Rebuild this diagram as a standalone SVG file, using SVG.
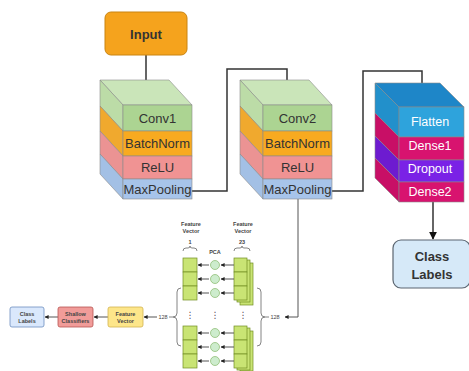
<svg xmlns="http://www.w3.org/2000/svg" width="469" height="371" viewBox="0 0 469 371">
  <style>
    .lbl { font-family: "Liberation Sans", Arial, sans-serif; font-size: 13px; fill: #333; text-anchor: middle; }
    .wl { font-family: "Liberation Sans", Arial, sans-serif; font-size: 12.5px; fill: #fff; text-anchor: middle; }
    .bold { font-weight: bold; }
    .tiny { font-family: "Liberation Sans", Arial, sans-serif; font-size: 5.5px; fill: #444; text-anchor: middle; font-weight: bold; }
    .dots { font-family: "DejaVu Sans", sans-serif; font-size: 9px; fill: #555; text-anchor: middle; }
    .edge { stroke: #8a8a8a; stroke-width: 0.6; }
    .conn { fill: none; stroke: #333; stroke-width: 1.5; }
    .thin { fill: none; stroke: #555; stroke-width: 1; }
    .cell { fill: #c9e474; stroke: #6f8d22; stroke-width: 0.7; }
    .pca { fill: #cdeccd; stroke: #86b86a; stroke-width: 0.7; }
    .brace { fill: none; stroke: #666; stroke-width: 0.8; }
  </style>
  <defs>
    <marker id="arr" viewBox="0 0 10 10" refX="9" refY="5" markerWidth="8" markerHeight="8" orient="auto" markerUnits="userSpaceOnUse">
      <path d="M0,0 L10,5 L0,10 Z" fill="#111"/>
    </marker>
    <marker id="arrS" viewBox="0 0 10 10" refX="9" refY="5" markerWidth="4" markerHeight="4" orient="auto" markerUnits="userSpaceOnUse">
      <path d="M0,0 L10,5 L0,10 Z" fill="#222"/>
    </marker>
  </defs>

  <rect width="469" height="371" fill="#fff"/>

  <!-- connectors -->
  <g id="connectors">
    <path class="conn" d="M146,55 V90" marker-end="url(#arr)"/>
    <path class="conn" d="M192,191 H227 V69 H287 V90" marker-end="url(#arr)"/>
    <path class="conn" d="M332,191 H363 V71 H422 V93" marker-end="url(#arr)"/>
    <path class="conn" d="M433,202 V239" marker-end="url(#arr)"/>
    <path class="thin" d="M298,199 V317 H285" marker-end="url(#arrS)"/>
    <path class="thin" d="M157,317 H144" marker-end="url(#arrS)"/>
    <path class="thin" d="M108,317 H94" marker-end="url(#arrS)"/>
    <path class="thin" d="M58,317 H45" marker-end="url(#arrS)"/>
  </g>

  <!-- input -->
  <g id="input">
    <rect x="105" y="12" width="82" height="43" rx="6" fill="#f5a31d" stroke="#c98412" stroke-width="1"/>
    <text class="lbl bold" x="146" y="38.5">Input</text>
  </g>

  <!-- conv block 1 -->
  <g id="conv-block-1">
    <path class="edge" d="M100,80 H169 L192,105 H123 Z" fill="#cae5b9"/>
    <path class="edge" d="M100,80 L123,105 V131 L100,106 Z" fill="#bcdca7"/>
    <path class="edge" d="M100,106 L123,131 V156 L100,131 Z" fill="#f0a92e"/>
    <path class="edge" d="M100,131 L123,156 V179 L100,154 Z" fill="#eb9393"/>
    <path class="edge" d="M100,154 L123,179 V199 L100,174 Z" fill="#a3c0e5"/>
    <rect class="edge" x="123" y="105" width="69" height="26" fill="#acd492"/>
    <rect class="edge" x="123" y="131" width="69" height="25" fill="#f8aa20"/>
    <rect class="edge" x="123" y="156" width="69" height="23" fill="#f09393"/>
    <rect class="edge" x="123" y="179" width="69" height="20" fill="#a7c4ea"/>
    <text class="lbl" x="157.5" y="122.5">Conv1</text>
    <text class="lbl" x="157.5" y="148">BatchNorm</text>
    <text class="lbl" x="157.5" y="172">ReLU</text>
    <text class="lbl" x="157.5" y="194">MaxPooling</text>
  </g>

  <!-- conv block 2 -->
  <g id="conv-block-2">
    <path class="edge" d="M240,80 H309 L332,105 H263 Z" fill="#cae5b9"/>
    <path class="edge" d="M240,80 L263,105 V131 L240,106 Z" fill="#bcdca7"/>
    <path class="edge" d="M240,106 L263,131 V156 L240,131 Z" fill="#f0a92e"/>
    <path class="edge" d="M240,131 L263,156 V179 L240,154 Z" fill="#eb9393"/>
    <path class="edge" d="M240,154 L263,179 V199 L240,174 Z" fill="#a3c0e5"/>
    <rect class="edge" x="263" y="105" width="69" height="26" fill="#acd492"/>
    <rect class="edge" x="263" y="131" width="69" height="25" fill="#f8aa20"/>
    <rect class="edge" x="263" y="156" width="69" height="23" fill="#f09393"/>
    <rect class="edge" x="263" y="179" width="69" height="20" fill="#a7c4ea"/>
    <text class="lbl" x="297.5" y="122.5">Conv2</text>
    <text class="lbl" x="297.5" y="148">BatchNorm</text>
    <text class="lbl" x="297.5" y="172">ReLU</text>
    <text class="lbl" x="297.5" y="194">MaxPooling</text>
  </g>

  <!-- dense block -->
  <g id="dense-block">
    <path class="edge" d="M375,83 H440 L464,107 H399 Z" fill="#1e86c8"/>
    <path class="edge" d="M375,83 L399,107 V137 L375,113 Z" fill="#2290cb"/>
    <path class="edge" d="M375,113 L399,137 V160 L375,136 Z" fill="#c80f66"/>
    <path class="edge" d="M375,136 L399,160 V182 L375,158 Z" fill="#6d1bd0"/>
    <path class="edge" d="M375,158 L399,182 V202 L375,178 Z" fill="#c80f66"/>
    <rect class="edge" x="399" y="107" width="65" height="30" fill="#2ea3dc"/>
    <rect class="edge" x="399" y="137" width="65" height="23" fill="#d8136f"/>
    <rect class="edge" x="399" y="160" width="65" height="22" fill="#7a22e6"/>
    <rect class="edge" x="399" y="182" width="65" height="20" fill="#d8136f"/>
    <text class="wl" x="430" y="126">Flatten</text>
    <text class="wl" x="430" y="150">Dense1</text>
    <text class="wl" x="430" y="173">Dropout</text>
    <text class="wl" x="430" y="196">Dense2</text>
  </g>

  <!-- class labels -->
  <g id="class-labels">
    <rect x="393" y="240" width="77" height="48" rx="8" fill="#d6e9f8" stroke="#5b6570" stroke-width="1.2"/>
    <text class="lbl bold" x="432" y="261">Class</text>
    <text class="lbl bold" x="432" y="279">Labels</text>
  </g>

  <!-- PCA reduction of the feature maps -->
  <g id="pca-block">
    <text class="tiny" x="191" y="226">Feature</text>
    <text class="tiny" x="191" y="233">Vector</text>
    <text class="tiny" x="243" y="226">Feature</text>
    <text class="tiny" x="243" y="233">Vector</text>
    <text class="tiny" x="190" y="244">1</text>
    <text class="tiny" x="242" y="244">23</text>
    <path class="brace" d="M183,251 Q183,248 186,248 H188 Q190,248 190,246 Q190,248 192,248 H194 Q197,248 197,251"/>
    <path class="brace" d="M234,251 Q234,248 237,248 H240 Q242,248 242,246 Q242,248 244,248 H247 Q250,248 250,251"/>
    <text class="tiny" x="215" y="254">PCA</text>

    <!-- top rows -->
    <rect class="cell" x="240" y="263" width="13" height="42"/>
    <rect class="cell" x="237" y="260" width="13" height="42"/>
    <rect class="cell" x="234" y="258" width="13" height="14"/>
    <rect class="cell" x="234" y="272" width="13" height="14"/>
    <rect class="cell" x="234" y="286" width="13" height="14"/>
    <rect class="cell" x="183" y="258" width="14" height="14"/>
    <rect class="cell" x="183" y="272" width="14" height="14"/>
    <rect class="cell" x="183" y="286" width="14" height="14"/>
    <circle class="pca" cx="215" cy="265" r="4.5"/>
    <circle class="pca" cx="215" cy="279" r="4.5"/>
    <circle class="pca" cx="215" cy="293" r="4.5"/>
    <path class="thin" d="M234,265 H221" marker-end="url(#arrS)"/>
    <path class="thin" d="M234,279 H221" marker-end="url(#arrS)"/>
    <path class="thin" d="M234,293 H221" marker-end="url(#arrS)"/>
    <path class="thin" d="M209,265 H198" marker-end="url(#arrS)"/>
    <path class="thin" d="M209,279 H198" marker-end="url(#arrS)"/>
    <path class="thin" d="M209,293 H198" marker-end="url(#arrS)"/>

    <!-- elided rows -->
    <text class="dots" x="190" y="318">⋮</text>
    <text class="dots" x="215" y="318">⋮</text>
    <text class="dots" x="243" y="318">⋮</text>

    <!-- bottom rows -->
    <rect class="cell" x="240" y="331" width="13" height="40"/>
    <rect class="cell" x="237" y="328" width="13" height="42"/>
    <rect class="cell" x="234" y="326" width="13" height="14"/>
    <rect class="cell" x="234" y="340" width="13" height="14"/>
    <rect class="cell" x="234" y="354" width="13" height="14"/>
    <rect class="cell" x="183" y="326" width="14" height="14"/>
    <rect class="cell" x="183" y="340" width="14" height="14"/>
    <rect class="cell" x="183" y="354" width="14" height="14"/>
    <circle class="pca" cx="215" cy="333" r="4.5"/>
    <circle class="pca" cx="215" cy="347" r="4.5"/>
    <circle class="pca" cx="215" cy="361" r="4.5"/>
    <path class="thin" d="M234,333 H221" marker-end="url(#arrS)"/>
    <path class="thin" d="M234,347 H221" marker-end="url(#arrS)"/>
    <path class="thin" d="M234,361 H221" marker-end="url(#arrS)"/>
    <path class="thin" d="M209,333 H198" marker-end="url(#arrS)"/>
    <path class="thin" d="M209,347 H198" marker-end="url(#arrS)"/>
    <path class="thin" d="M209,361 H198" marker-end="url(#arrS)"/>

    <!-- row braces -->
    <path class="brace" d="M181,288 Q177,288 177,292 V313 Q177,317 173,317 Q177,317 177,321 V342 Q177,346 181,346"/>
    <path class="brace" d="M169,317 H173"/>
    <text class="tiny" x="163" y="319" style="font-weight:normal">128</text>
    <path class="brace" d="M257,288 Q261,288 261,292 V313 Q261,317 265,317 Q261,317 261,321 V342 Q261,346 257,346"/>
    <path class="brace" d="M265,317 H269"/>
    <text class="tiny" x="275" y="319" style="font-weight:normal">128</text>
  </g>

  <!-- shallow classification path -->
  <g id="feature-vector">
    <rect x="108" y="307" width="35" height="20" rx="2" fill="#fde68a" stroke="#d2b24e" stroke-width="0.8"/>
    <text class="tiny" x="125.5" y="315.5">Feature</text>
    <text class="tiny" x="125.5" y="323">Vector</text>
  </g>
  <g id="shallow-classifiers">
    <rect x="58" y="307" width="35" height="20" rx="2" fill="#f19c99" stroke="#b85450" stroke-width="0.8"/>
    <text class="tiny" x="75.5" y="315.5">Shallow</text>
    <text class="tiny" x="75.5" y="323">Classifiers</text>
  </g>
  <g id="class-labels-small">
    <rect x="10" y="307" width="34" height="20" rx="2" fill="#dae8fc" stroke="#6c8ebf" stroke-width="0.8"/>
    <text class="tiny" x="27" y="315.5">Class</text>
    <text class="tiny" x="27" y="323">Labels</text>
  </g>
</svg>
